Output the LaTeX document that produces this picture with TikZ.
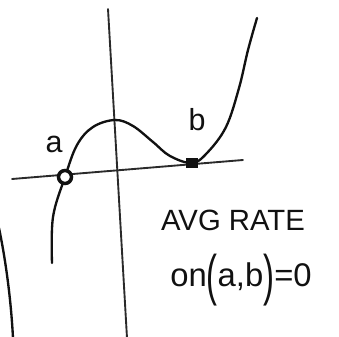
\documentclass[tikz,border=0pt]{standalone}
\usepackage{fontspec}
\setmainfont{Liberation Sans}
\usetikzlibrary{arrows.meta,positioning,calc}
\definecolor{Ink}{HTML}{111111}
\definecolor{Axis}{HTML}{2A2A2A}
\newcommand{\tallparen}[1]{\raisebox{-0.25em}{\scalebox{1}[1.7]{#1}}}
\tikzset{
  axisline/.style={draw=Axis,line width=1.6pt,line cap=round},
  graph/.style={draw=Ink,line width=2pt,line cap=round,line join=round},
  openpt/.style={circle,draw=Ink,line width=3pt,fill=white,minimum size=3.9mm,inner sep=0pt},
  solidpt/.style={rectangle,fill=Ink,draw=none,minimum width=3.8mm,minimum height=3mm,inner sep=0pt},
  lab/.style={font=\fontsize{26}{28}\selectfont,text=Ink,inner sep=0pt},
  note/.style={font=\fontsize{25}{30}\selectfont,text=Ink,inner sep=0pt}
}
\begin{document}
\begin{tikzpicture}[x=0.03cm,y=-0.03cm]
    \useasboundingbox (0,0) rectangle (339,336);
    % axes
    \draw[axisline] (108,9) -- (127,338);
    \draw[axisline] (12,179) -- (243,160);
    % the curve
    \draw[graph] plot[smooth,tension=0.6] coordinates {(52,263) (53,217) (65,177) (77,145) (93,127) (115,120) (133,126) (153,142) (170,156) (192,163) (207,153) (226,127) (239,88) (248,50) (257,18)};
    \draw[graph] (-1,228) .. controls (6,262) and (11,300) .. (13,338);
    % points and labels
    \node[openpt] (pa) at (65,177) {};
    \node[solidpt] (pb) at (192,163) {};
    \node[lab] (la) at (54,144) {a};
    \node[lab] (lb) at (197,120) {b};
    \node[note] (avg) at (233,220) {AVG RATE};
    \node[note,font=\fontsize{28}{30}\selectfont] (on) at (241,280) {on\tallparen{(}a,b\tallparen{)}=0};
  \end{tikzpicture}
\end{document}
